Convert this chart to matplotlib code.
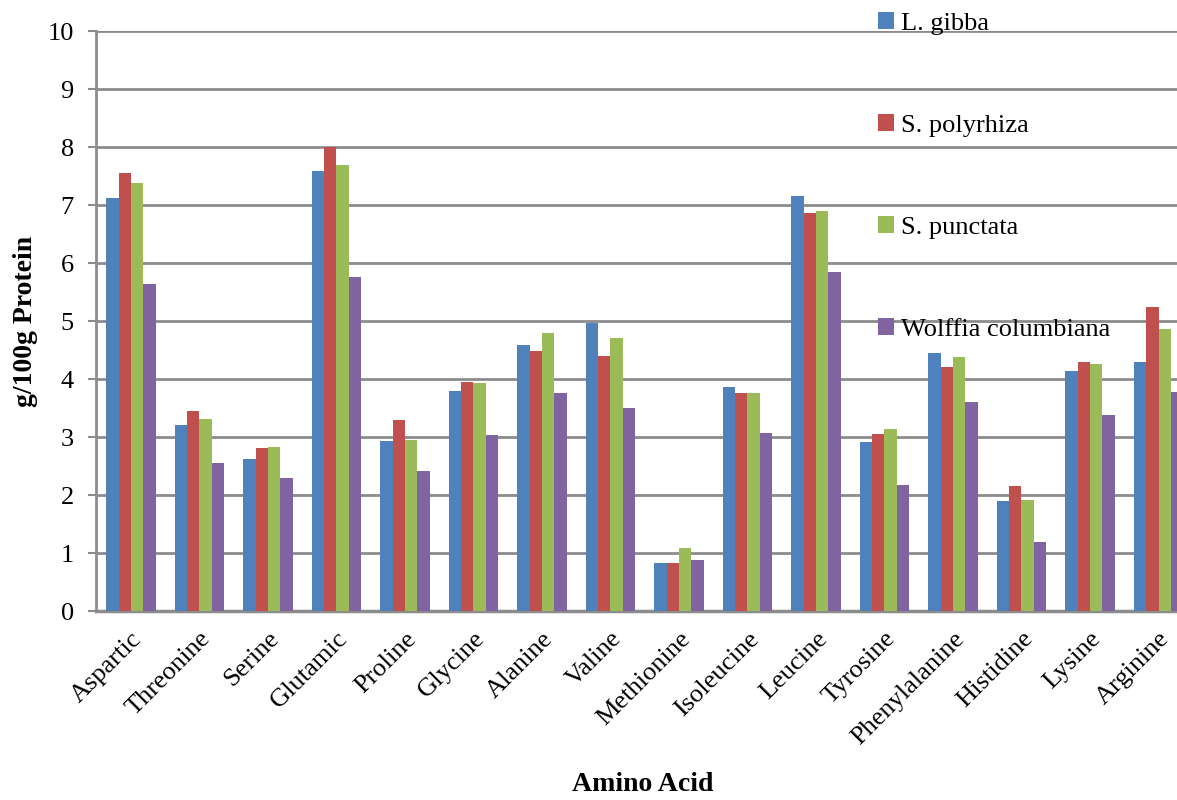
import numpy as np
import matplotlib
matplotlib.use("Agg")
import matplotlib.pyplot as plt

amino_acids = ["Aspartic", "Threonine", "Serine", "Glutamic", "Proline", "Glycine",
               "Alanine", "Valine", "Methionine", "Isoleucine", "Leucine", "Tyrosine",
               "Phenylalanine", "Histidine", "Lysine", "Arginine"]

l_gibba = [7.12, 3.21, 2.62, 7.59, 2.93, 3.79, 4.59, 4.97, 0.83, 3.86, 7.16, 2.91, 4.45, 1.90, 4.14, 4.29]
s_polyrhiza = [7.55, 3.45, 2.81, 8.00, 3.29, 3.95, 4.48, 4.40, 0.83, 3.76, 6.86, 3.05, 4.21, 2.16, 4.29, 5.24]
s_punctata = [7.38, 3.31, 2.83, 7.69, 2.95, 3.93, 4.79, 4.71, 1.09, 3.76, 6.90, 3.14, 4.38, 1.91, 4.26, 4.86]
wolffia = [5.64, 2.55, 2.29, 5.76, 2.41, 3.03, 3.76, 3.50, 0.88, 3.07, 5.84, 2.17, 3.60, 1.19, 3.38, 3.78]

series_names = ["L. gibba", "S. polyrhiza", "S. punctata", "Wolffia columbiana"]
series_colors = ["#4F81BD", "#C0504D", "#9BBB59", "#8064A2"]

plt.rcParams["font.family"] = ["Liberation Serif", "DejaVu Serif"]

fig = plt.figure(figsize=(11.77, 8.0), dpi=100)
ax = fig.add_axes([96 / 1177, 1 - 611 / 800, 1 - 96 / 1177, (611 - 31) / 800])

x = np.arange(len(amino_acids))
width = 0.181
handles = []
for k, (vals, name, col) in enumerate(zip([l_gibba, s_polyrhiza, s_punctata, wolffia],
                                           series_names, series_colors)):
    offset = (k - 1.5) * width
    b = ax.bar(x + offset, vals, width, color=col, label=name, zorder=3)
    handles.append(b)

ax.set_ylim(0, 10)
ax.set_xlim(-0.51, 15.27)
ax.set_yticks(range(0, 11))
ax.yaxis.grid(True, color="#8c8c8c", linewidth=2.0, zorder=0)
ax.set_axisbelow(True)

for side in ["top", "right"]:
    ax.spines[side].set_visible(False)
ax.spines["left"].set_color("#8c8c8c")
ax.spines["left"].set_linewidth(2.0)
ax.spines["bottom"].set_color("#8c8c8c")
ax.spines["bottom"].set_linewidth(2.5)

ax.tick_params(axis="y", direction="out", length=6, width=1.5, color="#8c8c8c",
               labelsize=19, pad=10)
ax.tick_params(axis="x", length=0, labelsize=19, pad=12)
ax.set_xticks(x)
ax.set_xticklabels(amino_acids, rotation=45, ha="right", rotation_mode="anchor")

ax.set_ylabel("g/100g Protein", fontsize=20, fontweight="bold", labelpad=7)
fig.text(0.546, 0.004, "Amino Acid", fontsize=20, fontweight="bold", ha="center", va="bottom")

leg = fig.legend(handles=handles, labels=series_names, loc="upper left",
                 bbox_to_anchor=(878 / 1177, 1 - 12 / 800), frameon=False, fontsize=19,
                 labelspacing=3.0, handlelength=0.62, handleheight=0.62,
                 handletextpad=0.25, borderpad=0, borderaxespad=0)

fig.savefig("out.png", dpi=100)
